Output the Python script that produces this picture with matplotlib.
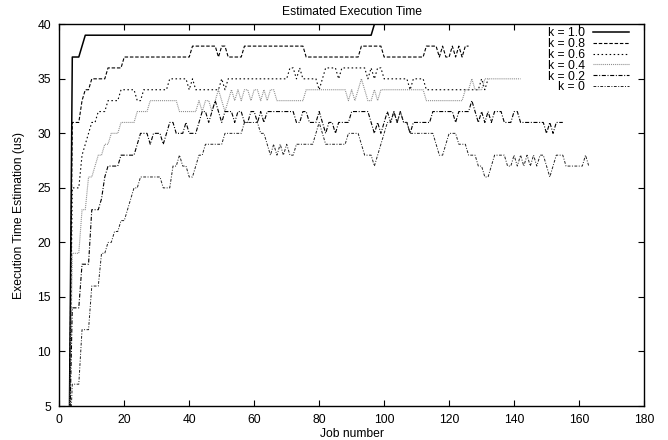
import matplotlib
matplotlib.use("Agg")
import matplotlib.pyplot as plt

# polyline vertices (job number, estimate in us)
k10_job = [1, 3, 4, 6, 7, 8, 96, 97]
k10_val = [0, 0, 37, 37, 38, 39, 39, 40]

k08_job = [1, 3, 4, 6, 7, 8, 9, 10, 14, 15, 19, 20, 40, 41, 48, 49, 50, 51, 52, 56,
           57, 75, 76, 92, 93, 99, 100, 112, 113, 116, 117, 118, 119, 120, 121, 122,
           123, 124, 125, 126]
k08_val = [0, 0, 31, 31, 33, 34, 34, 35, 35, 36, 36, 37, 37, 38, 38, 37, 38, 38, 37, 37,
           38, 38, 37, 37, 38, 38, 37, 37, 38, 38, 37, 38, 37, 37, 38, 37,
           38, 37, 38, 38]

k06_job = [1, 3, 4, 6, 7, 8, 9, 10, 11, 12, 14, 15, 18, 19, 23, 24, 25, 26, 33, 34,
           39, 40, 41, 42, 49, 50, 51, 52, 70, 71, 72, 73, 74, 75, 79, 80, 81, 82, 85,
           86, 87, 94, 95, 96, 97, 98, 99, 100, 107, 108, 109, 112, 113, 129, 130,
           131, 132]
k06_val = [0, 0, 25, 25, 28, 29, 30, 31, 31, 32, 32, 33, 33, 34, 34, 33, 33, 34, 34, 35,
           35, 34, 35, 34, 34, 35, 34, 35, 35, 36, 36, 35, 36, 35, 35, 34, 35, 36, 36,
           35, 36, 36, 35, 36, 35, 36, 36, 35, 35, 34, 35, 35, 34, 34, 35,
           34, 35]

k04_job = [1, 3, 4, 6, 7, 8, 9, 10, 11, 12, 13, 14, 15, 16, 18, 19, 23, 24, 27, 28,
           36, 37, 42, 43, 44, 45, 46, 47, 48, 49, 50, 51, 52, 53, 54, 55, 56, 57, 58,
           59, 60, 61, 62, 63, 64, 65, 66, 67, 75, 76, 88, 89, 90, 91, 92, 93, 94, 95,
           96, 97, 98, 99, 112, 113, 124, 125, 126, 127, 128, 130, 131, 142]
k04_val = [0, 0, 19, 19, 23, 23, 26, 26, 27, 28, 28, 29, 29, 30, 30, 31, 31, 32, 32, 33,
           33, 32, 32, 33, 32, 33, 33, 32, 33, 34, 33, 32, 33, 34, 33, 34, 33, 34, 34,
           33, 34, 34, 33, 34, 33, 34, 34, 33, 33, 34, 34, 33, 34, 33, 34, 35, 34, 33,
           33, 34, 33, 34, 34, 33, 33, 34, 34, 35, 34, 34, 35, 35]

k02_job = [1, 3, 4, 6, 7, 9, 10, 12, 13, 14, 15, 18, 19, 23, 24, 25, 27, 28, 29, 31,
           32, 33, 34, 35, 36, 38, 39, 40, 42, 43, 44, 45, 46, 47, 48, 49, 50, 51, 53,
           54, 55, 56, 57, 58, 59, 60, 61, 62, 63, 64, 72, 73, 74, 75, 76, 77, 79, 80,
           81, 82, 83, 84, 85, 86, 89, 90, 95, 96, 97, 98, 99, 100, 101, 102, 103, 104,
           105, 106, 107, 108, 109, 114, 115, 121, 122, 123, 126, 127, 128, 129, 130,
           131, 132, 133, 134, 136, 137, 139, 140, 141, 142, 143, 149, 150, 151, 152,
           153, 155]
k02_val = [0, 0, 14, 14, 18, 18, 23, 23, 24, 26, 27, 27, 28, 28, 29, 30, 30, 29, 30, 30,
           29, 30, 31, 31, 30, 30, 31, 30, 30, 31, 32, 32, 31, 32, 33, 32, 31, 32, 32,
           31, 32, 32, 31, 31, 32, 32, 31, 32, 31, 32, 32, 31, 31, 32, 32, 31, 31, 32,
           31, 30, 31, 31, 30, 31, 31, 32, 32, 31, 30, 31, 30, 31, 32, 31, 32, 31,
           32, 31, 31, 30, 31, 31, 32, 32, 31, 32, 32, 33, 32, 31, 32,
           31, 32, 31, 32, 32, 31, 31, 32, 32, 31, 31, 31, 30, 31, 30,
           31, 31]

k00_job = [1, 3, 4, 6, 7, 9, 10, 12, 13, 14, 15, 16, 17, 18, 19, 20, 21, 22, 23, 24,
           25, 31, 32, 34, 35, 36, 37, 38, 39, 40, 41, 42, 43, 44, 45, 50, 51, 56, 57,
           61, 62, 63, 64, 65, 66, 67, 68, 69, 70, 71, 72, 73, 78, 79, 80, 81, 82, 88,
           89, 92, 93, 94, 96, 97, 98, 99, 100, 101, 102, 103, 104, 105, 106, 107, 108,
           115, 116, 117, 118, 119, 120, 122, 123, 125, 126, 128, 129, 130, 131, 132,
           133, 134, 137, 138, 139, 140, 141, 142, 143, 144, 145, 146, 147, 148, 149,
           150, 151, 152, 153, 155, 156, 161, 162, 163]
k00_val = [0, 0, 7, 7, 12, 12, 16, 16, 19, 19, 20, 20, 21, 21, 22, 22, 23, 24, 25, 25,
           26, 26, 25, 25, 27, 27, 28, 27, 27, 26, 26, 27, 28, 28, 29, 29, 30, 30, 31,
           31, 30, 30, 29, 28, 29, 28, 29, 28, 29, 28, 28, 29, 29, 30, 31, 30, 29, 29,
           30, 30, 29, 28, 28, 27, 28, 29, 30, 31, 31, 32, 31, 32, 31, 31, 30,
           30, 29, 28, 28, 29, 30, 30, 29, 29, 28, 28, 27, 27, 26, 26,
           27, 28, 28, 27, 27, 28, 27, 28, 27, 28, 27, 28, 27, 28, 28,
           27, 26, 27, 28, 28, 27, 27, 28, 27]

labels = ["k = 1.0", "k = 0.8", "k = 0.6", "k = 0.4", "k = 0.2", "k = 0"]

plt.rcParams["font.family"] = ["Liberation Sans", "DejaVu Sans"]
plt.rcParams["font.size"] = 8.7
plt.rcParams["lines.scale_dashes"] = False

fig = plt.figure(figsize=(6.68, 4.4), dpi=100)
ax = fig.add_axes([59.3 / 668, 1 - 406 / 440, (644 - 59.3) / 668, (406 - 24.3) / 440])

ax.plot(k10_job, k10_val, color="black", lw=1.1, label=labels[0])
ax.plot(k08_job, k08_val, color="black", lw=0.8, dashes=(2.5, 1.3), label=labels[1])
ax.plot(k06_job, k06_val, color="black", lw=0.8, dashes=(1.1, 1.8), label=labels[2])
ax.plot(k04_job, k04_val, color="#8a8a8a", lw=0.8, dashes=(0.7, 0.7), label=labels[3])
ax.plot(k02_job, k02_val, color="black", lw=0.8, dashes=(2.9, 1.2, 0.7, 1.2), label=labels[4])
ax.plot(k00_job, k00_val, color="#222222", lw=0.7, dashes=(2.0, 1.1, 0.7, 1.1), label=labels[5])

ax.set_xlim(0, 180)
ax.set_ylim(5, 40)
ax.set_xticks(range(0, 181, 20))
ax.set_yticks(range(5, 41, 5))
ax.tick_params(direction="in", length=4.5, width=0.8, top=True, right=True, pad=6)
for s in ax.spines.values():
    s.set_linewidth(1.0)

ax.set_title("Estimated Execution Time", fontsize=8.7, pad=7)
ax.set_xlabel("Job number", labelpad=1)
ax.set_ylabel("Execution Time Estimation (us)", labelpad=9)

ax.legend(loc="upper right", bbox_to_anchor=(0.974, 0.992), frameon=False,
          markerfirst=False, handlelength=3.0, handletextpad=0.65,
          labelspacing=-0.1, borderpad=0, borderaxespad=0)

fig.savefig("out.png", dpi=100)
